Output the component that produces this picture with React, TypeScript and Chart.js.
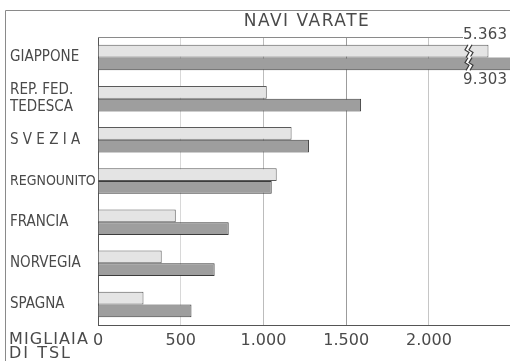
import React, { useEffect, useRef } from "react";
import { Chart, registerables } from "chart.js";

Chart.register(...registerables);

// ---- data ----
const CATEGORIES: (string | string[])[] = [
  "GIAPPONE",
  ["REP. FED.", "TEDESCA"],
  "S V E Z I A",
  "REGNOUNITO",
  "FRANCIA",
  "NORVEGIA",
  "SPAGNA",
];
const SERIES_LIGHT = [5363, 1020, 1170, 1080, 470, 385, 275];
const SERIES_DARK = [9303, 1590, 1275, 1050, 790, 705, 565];
const X_TICKS = [0, 500, 1000, 1500, 2000];
const TITLE = "NAVI VARATE";
const UNIT_LINES = ["MIGLIAIA", "DI TSL"];

// axis break settings (values beyond the axis are drawn broken)
const AXIS_MAX = 2490;
const BREAK_VALUE = 2230;
const BROKEN_LIGHT_SHOWN = 2360;
const BROKEN_DARK_SHOWN = 2700;

const FONT = '"DejaVu Sans", sans-serif';
const COND = '"DejaVu Sans Condensed", "DejaVu Sans", sans-serif';
const TEXT = "#4a4a4a";

const fmt = (v: number) => String(v).replace(/\B(?=(\d{3})+(?!\d))/g, ".");

const GRID_COLORS: Record<number, string> = {
  500: "#d8d8d8",
  1000: "#bcbcbc",
  1500: "#9c9c9c",
  2000: "#c6c6c6",
};

const decorPlugin = {
  id: "decor",
  beforeDraw(chart: any) {
    const ctx = chart.ctx as CanvasRenderingContext2D;
    ctx.save();
    ctx.fillStyle = "#ffffff";
    ctx.fillRect(0, 0, chart.width, chart.height);
    // outer frame
    ctx.strokeStyle = "#8a8a8a";
    ctx.lineWidth = 1;
    ctx.beginPath();
    ctx.moveTo(5.5, chart.height);
    ctx.lineTo(5.5, 10.5);
    ctx.lineTo(chart.width, 10.5);
    ctx.stroke();
    // title
    ctx.fillStyle = TEXT;
    ctx.font = `17px ${FONT}`;
    (ctx as any).letterSpacing = "1.5px";
    ctx.textAlign = "center";
    ctx.textBaseline = "middle";
    ctx.fillText(TITLE, 307, 22);
    // unit label
    ctx.font = `16px ${FONT}`;
    (ctx as any).letterSpacing = "1.1px";
    ctx.textAlign = "left";
    ctx.fillText(UNIT_LINES[0], 9, 340);
    (ctx as any).letterSpacing = "2px";
    ctx.fillText(UNIT_LINES[1], 9, 354);
    ctx.restore();
  },
  afterDatasetsDraw(chart: any) {
    const ctx = chart.ctx as CanvasRenderingContext2D;
    const area = chart.chartArea;
    const xs = chart.scales.x;
    const bx = Math.round(xs.getPixelForValue(BREAK_VALUE));
    ctx.save();
    // top border of plot
    ctx.strokeStyle = "#8a8a8a";
    ctx.lineWidth = 1;
    ctx.beginPath();
    ctx.moveTo(area.left, Math.round(area.top) + 0.5);
    ctx.lineTo(bx - 4, Math.round(area.top) + 0.5);
    ctx.stroke();

    const series = [SERIES_LIGHT, SERIES_DARK];
    series.forEach((vals, di) => {
      const meta = chart.getDatasetMeta(di);
      vals.forEach((v, i) => {
        if (v <= AXIS_MAX) return;
        const el = meta.data[i];
        const t = el.y - el.height / 2;
        const b = el.y + el.height / 2;
        const h = b - t;
        const edge = (dx: number) => [
          [bx + dx + 1, t - 1],
          [bx + dx - 2, t + h * 0.4],
          [bx + dx + 2, t + h * 0.6],
          [bx + dx - 1, b + 1],
        ];
        const L = edge(0);
        const R = edge(4);
        ctx.fillStyle = "#ffffff";
        ctx.beginPath();
        ctx.moveTo(L[0][0], L[0][1]);
        L.forEach((p) => ctx.lineTo(p[0], p[1]));
        [...R].reverse().forEach((p) => ctx.lineTo(p[0], p[1]));
        ctx.closePath();
        ctx.fill();
        ctx.strokeStyle = "#3a3a3a";
        ctx.lineWidth = 1.2;
        [L, R].forEach((E) => {
          ctx.beginPath();
          ctx.moveTo(E[0][0], E[0][1] + 1);
          E.slice(1, 3).forEach((p) => ctx.lineTo(p[0], p[1]));
          ctx.lineTo(E[3][0], E[3][1] - 1);
          ctx.stroke();
        });
        // value label
        ctx.fillStyle = TEXT;
        ctx.font = `15px ${FONT}`;
        (ctx as any).letterSpacing = "0.3px";
        ctx.textAlign = "left";
        ctx.textBaseline = "middle";
        const ly = di === 0 ? area.top - 2 : b + 10;
        ctx.fillText(fmt(v), bx - 4, ly);
      });
    });
    ctx.restore();
  },
};

export default function App() {
  const ref = useRef<HTMLCanvasElement | null>(null);
  useEffect(() => {
    if (!ref.current) return;
    const chart = new Chart(ref.current, {
      type: "bar",
      data: {
        labels: CATEGORIES as any,
        datasets: [
          {
            data: SERIES_LIGHT.map((v) => (v > AXIS_MAX ? BROKEN_LIGHT_SHOWN : v)),
            backgroundColor: "#e4e4e4",
            borderColor: "#5a5a5a",
            borderWidth: 1,
            borderSkipped: "left",
          },
          {
            data: SERIES_DARK.map((v) => (v > AXIS_MAX ? BROKEN_DARK_SHOWN : v)),
            backgroundColor: "#9e9e9e",
            borderColor: "#3c3c3c",
            borderWidth: 1,
            borderSkipped: "left",
          },
        ],
      },
      options: {
        indexAxis: "y",
        responsive: false,
        animation: false,
        events: [],
        layout: { padding: { left: 10, top: 37, right: 0, bottom: 0 } },
        datasets: { bar: { categoryPercentage: 0.62, barPercentage: 1 } },
        plugins: { legend: { display: false }, tooltip: { enabled: false } },
        scales: {
          x: {
            min: 0,
            max: AXIS_MAX,
            afterFit: (s: any) => {
              s.height = 36;
            },
            afterBuildTicks: (s: any) => {
              s.ticks = X_TICKS.map((v) => ({ value: v }));
            },
            border: { display: true, color: "#555555", width: 1 },
            grid: {
              drawTicks: false,
              color: (c: any) => GRID_COLORS[c.tick?.value] ?? "rgba(0,0,0,0)",
            },
            ticks: {
              padding: 6,
              color: TEXT,
              font: { family: FONT, size: 16 },
              maxRotation: 0,
              callback: (v: any) => fmt(Number(v)),
            },
          },
          y: {
            afterFit: (s: any) => {
              s.width = 88;
            },
            border: { display: true, color: "#555555", width: 1 },
            grid: { display: false },
            ticks: {
              crossAlign: "far",
              padding: 4,
              color: TEXT,
              font: (c: any) =>
                c.index === 3
                  ? { family: COND, size: 14, lineHeight: 1.15 }
                  : { family: COND, size: 15, lineHeight: 1.15 },
            },
          },
        },
      },
      plugins: [decorPlugin],
    } as any);
    return () => chart.destroy();
  }, []);
  return (
    <div style={{ position: "fixed", left: 0, top: 0, width: 510, height: 361, background: "#fff" }}>
      <canvas ref={ref} width={510} height={361} style={{ display: "block", width: 510, height: 361 }} />
    </div>
  );
}
